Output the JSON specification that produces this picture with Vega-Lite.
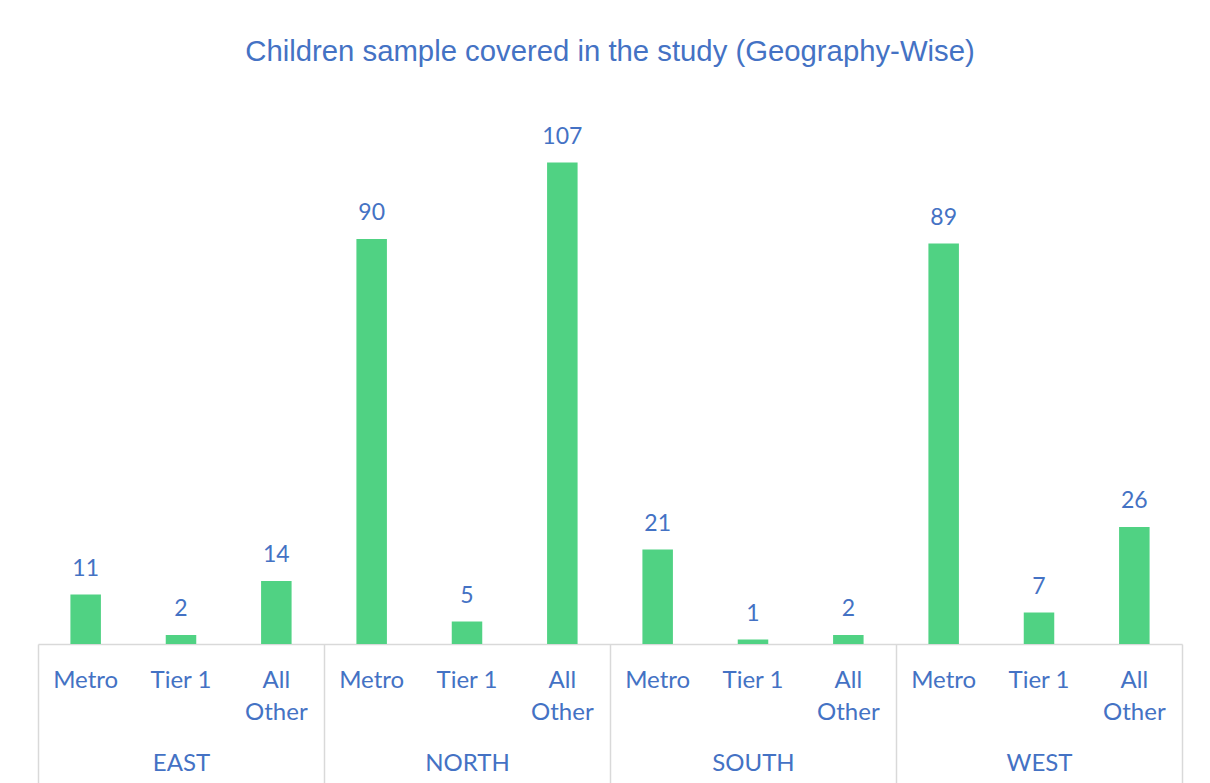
{
  "$schema": "https://vega.github.io/schema/vega-lite/v6.json",
  "width": 1144,
  "height": 540,
  "autosize": "none",
  "padding": {"left": 38, "top": 104, "right": 28, "bottom": 139},
  "background": "white",
  "config": {"view": {"stroke": null}},
  "title": {
    "text": "Children sample covered in the study (Geography-Wise)",
    "font": "Liberation Sans",
    "fontSize": 29.3,
    "fontWeight": "normal",
    "color": "#4472C4",
    "anchor": "middle",
    "frame": "group",
    "baseline": "alphabetic",
    "offset": 14
  },
  "data": {
    "values": [
      {"key": "EAST|Metro", "region": "EAST", "n": 11},
      {"key": "EAST|Tier 1", "region": "EAST", "n": 2},
      {"key": "EAST|All Other", "region": "EAST", "n": 14},
      {"key": "NORTH|Metro", "region": "NORTH", "n": 90},
      {"key": "NORTH|Tier 1", "region": "NORTH", "n": 5},
      {"key": "NORTH|All Other", "region": "NORTH", "n": 107},
      {"key": "SOUTH|Metro", "region": "SOUTH", "n": 21},
      {"key": "SOUTH|Tier 1", "region": "SOUTH", "n": 1},
      {"key": "SOUTH|All Other", "region": "SOUTH", "n": 2},
      {"key": "WEST|Metro", "region": "WEST", "n": 89},
      {"key": "WEST|Tier 1", "region": "WEST", "n": 7},
      {"key": "WEST|All Other", "region": "WEST", "n": 26}
    ]
  },
  "layer": [
    {
      "layer": [
        {
          "mark": {"type": "bar", "color": "#50D283", "width": {"band": 0.32}},
          "encoding": {
            "x": {
              "field": "key",
              "type": "nominal",
              "sort": null,
              "scale": {"type": "band", "paddingInner": 0, "paddingOuter": 0},
              "axis": {
                "orient": "bottom",
                "title": null,
                "ticks": false,
                "domain": true,
                "domainColor": "#D9D9D9",
                "domainWidth": 1.5,
                "labelExpr": "split(datum.value,'|')[1] == 'All Other' ? ['All','Other'] : split(datum.value,'|')[1]",
                "labelAngle": 0,
                "labelFont": "Lato",
                "labelFontSize": 24,
                "labelColor": "#4472C4",
                "labelPadding": 43,
                "labelBaseline": "alphabetic",
                "labelLineHeight": 32,
                "labelOverlap": false,
                "labelFlush": false,
                "labelLimit": 0
              }
            },
            "y": {
              "field": "n",
              "type": "quantitative",
              "scale": {"domain": [0, 120]},
              "axis": null
            }
          }
        },
        {
          "mark": {"type": "text", "font": "Lato", "fontSize": 23, "color": "#4472C4", "baseline": "alphabetic", "dy": -19},
          "encoding": {
            "x": {"field": "key", "type": "nominal", "sort": null},
            "y": {"field": "n", "type": "quantitative"},
            "text": {"field": "n", "type": "quantitative"}
          }
        }
      ]
    },
    {
      "mark": {"type": "rule", "strokeOpacity": 0},
      "encoding": {
        "x": {
          "field": "region",
          "type": "nominal",
          "sort": null,
          "scale": {"type": "band", "paddingInner": 0, "paddingOuter": 0},
          "axis": {
            "orient": "bottom",
            "title": null,
            "tickBand": "extent",
            "tickSize": 139,
            "tickColor": "#D9D9D9",
            "tickWidth": 1.5,
            "domain": false,
            "labelFont": "Lato",
            "labelFontSize": 24,
            "labelColor": "#4472C4",
            "labelPadding": -13,
            "labelBaseline": "alphabetic",
            "labelAngle": 0,
            "labelFlush": false
          }
        }
      }
    }
  ],
  "resolve": {"scale": {"x": "independent"}}
}
